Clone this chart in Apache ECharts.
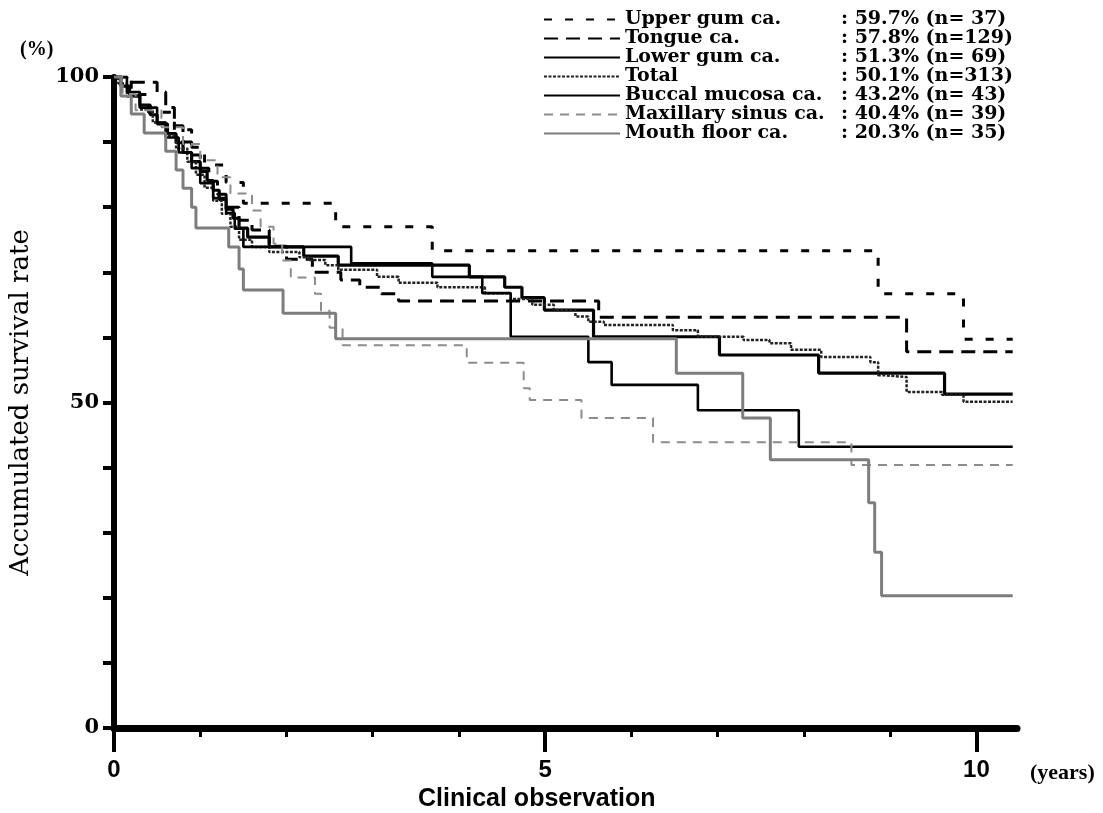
<!DOCTYPE html>
<html>
<head>
<meta charset="utf-8">
<script src="https://cdn.jsdelivr.net/npm/echarts@6/dist/echarts.min.js"></script>
<style>
html, body { margin: 0; background: #fff; }
#main { width: 1103px; height: 813px; }
</style>
</head>
<body>
<div id="main"></div>
<script>
// Kaplan-Meier steps: [years, survival %]
var upperGum = [[0,100],[0.2,97.3],[0.4,94.6],[0.7,91.9],[0.9,89.2],[1.05,86.5],[1.3,83.8],[1.5,80.6],[2.57,77.0],[3.69,73.3],[8.86,66.7],[9.85,59.7],[10.42,59.7]];
var tongue = [[0,100],[0.15,99.2],[0.5,97.7],[0.6,95.3],[0.7,92.5],[0.8,90.0],[0.9,88.0],[1.0,86.0],[1.1,84.0],[1.2,82.0],[1.3,80.0],[1.45,78.0],[1.6,76.5],[1.8,74.0],[2.0,72.0],[2.3,70.0],[2.63,68.8],[2.85,67.7],[3.1,66.7],[3.3,65.6],[5.62,63.1],[9.19,57.8],[10.42,57.8]];
var lowerGum = [[0,100],[0.08,98.6],[0.18,97.1],[0.3,95.7],[0.42,94.2],[0.5,92.8],[0.62,91.3],[0.72,89.9],[0.8,88.4],[0.9,87.0],[1.0,85.5],[1.08,84.1],[1.15,82.6],[1.22,81.2],[1.3,79.7],[1.38,78.3],[1.45,76.8],[1.55,75.4],[1.8,73.9],[2.2,72.5],[2.6,71.1],[4.12,69.3],[4.53,67.7],[4.73,66.1],[4.99,64.2],[5.56,60.1],[7.02,57.3],[8.17,54.5],[9.63,51.3],[10.42,51.3]];
var total = [[0,100],[0.05,99],[0.15,97],[0.3,95],[0.45,93],[0.6,91],[0.72,89],[0.85,87],[0.95,85],[1.05,83],[1.15,81],[1.25,79],[1.35,77],[1.45,75],[1.6,73.9],[1.8,73.1],[2.15,72.3],[2.25,71.9],[2.45,71.1],[2.6,70.4],[3.05,69.3],[3.3,68.4],[3.75,67.7],[4.3,66.8],[4.6,65.9],[4.85,65.0],[5.1,64.2],[5.35,63.2],[5.5,62.4],[5.68,61.9],[6.48,61.1],[6.77,60.1],[7.3,59.6],[7.6,59.1],[7.85,58.1],[8.2,57.0],[8.77,56.2],[8.86,54.2],[8.92,53.9],[9.19,51.6],[9.6,51.2],[9.85,50.1],[10.42,50.1]];
var buccal = [[0,100],[0.15,97.7],[0.3,95.3],[0.5,93.0],[0.6,90.7],[0.75,88.4],[0.9,86.0],[1.0,83.7],[1.15,81.4],[1.3,79.1],[1.4,76.7],[1.5,73.9],[2.75,71.4],[3.69,69.3],[4.27,66.8],[4.6,60.1],[5.5,56.2],[5.77,52.7],[6.77,48.8],[7.94,43.2],[10.42,43.2]];
var maxillary = [[0,100],[0.1,97.4],[0.25,94.9],[0.55,92.3],[0.8,89.7],[1.0,87.2],[1.2,84.6],[1.35,82.1],[1.6,79.5],[1.7,77.0],[1.85,74.4],[1.95,71.8],[2.05,69.2],[2.33,66.7],[2.4,64.1],[2.5,61.5],[2.65,58.8],[4.09,56.1],[4.75,52.2],[4.82,50.4],[5.42,47.6],[6.25,43.9],[8.55,40.4],[10.42,40.4]];
var mouthFloor = [[0,100],[0.08,97.1],[0.2,94.3],[0.35,91.4],[0.6,88.6],[0.72,85.7],[0.8,82.9],[0.9,80.0],[0.95,76.8],[1.33,73.9],[1.45,70.5],[1.5,67.3],[1.96,63.7],[2.57,59.8],[6.52,54.5],[7.29,47.6],[7.61,41.2],[8.75,34.6],[8.82,27.0],[8.90,20.3],[10.42,20.3]];

var names = ['Upper gum ca.', 'Tongue ca.', 'Lower gum ca.', 'Total', 'Buccal mucosa ca.', 'Maxillary sinus ca.', 'Mouth floor ca.'];
var rates = ['59.7', '57.8', '51.3', '50.1', '43.2', '40.4', '20.3'];
var counts = [37, 129, 69, 313, 43, 39, 35];
var xTicks = [0,1,2,3,4,5,6,7,8,9,10];
var xLabels = [0,5,10];
var yTicks = [0,10,20,30,40,50,60,70,80,90,100];
var yLabels = [0,50,100];

var serif = "'DejaVu Serif', 'Liberation Serif', serif";
var times = "'Liberation Serif', serif";
var narrow = "'Liberation Sans Narrow', 'Liberation Sans', sans-serif";

var myChart = echarts.init(document.getElementById('main'));

function km(name, data, style) {
    return {
        name: name,
        type: 'line',
        step: 'end',
        symbol: 'none',
        data: data,
        lineStyle: style,
        itemStyle: { color: style.color }
    };
}

option = {
    animation: false,
    backgroundColor: '#fff',
    grid: { left: 110, right: 86, top: 77, bottom: 85 },
    legend: {
        orient: 'vertical',
        left: 538,
        top: 5,
        itemWidth: 76,
        itemHeight: 14,
        itemGap: 0,
        selectedMode: false,
        data: names,
        itemStyle: { color: 'rgba(0,0,0,0)', borderWidth: 0, opacity: 0 },
        formatter: function (name) {
            var i = names.indexOf(name);
            var n = counts[i] < 100 ? ' ' + counts[i] : '' + counts[i];
            return '{a|' + name + '}{b|: ' + rates[i] + '% (n=' + n + ')}';
        },
        textStyle: {
            rich: {
                a: { fontFamily: serif, fontWeight: 'bold', fontSize: 19, color: '#000', width: 216, lineHeight: 22.5 },
                b: { fontFamily: serif, fontWeight: 'bold', fontSize: 19, color: '#000', lineHeight: 22.5 }
            }
        }
    },
    xAxis: [
        {
            type: 'value',
            min: 0,
            max: 10.47,
            position: 'bottom',
            splitLine: { show: false },
            axisLine: { onZero: false, lineStyle: { color: '#000', width: 7 } },
            axisTick: { customValues: xTicks, length: 9, lineStyle: { color: '#000', width: 3 } },
            axisLabel: { show: false }
        },
        {
            type: 'value',
            min: 0,
            max: 10.47,
            position: 'bottom',
            splitLine: { show: false },
            axisLine: { show: false },
            axisTick: { customValues: xLabels, length: 24, lineStyle: { color: '#000', width: 4 } },
            axisLabel: {
                customValues: xLabels,
                margin: 30,
                fontFamily: narrow,
                fontWeight: 'bold',
                fontSize: 24,
                color: '#000'
            }
        }
    ],
    yAxis: {
        type: 'value',
        min: 0,
        max: 100,
        interval: 10,
        name: 'Accumulated survival rate',
        nameLocation: 'middle',
        nameRotate: 90,
        nameGap: 80,
        nameTextStyle: { fontFamily: serif, fontSize: 26, color: '#000' },
        splitLine: { show: false },
        axisLine: { lineStyle: { color: '#000', width: 6 } },
        axisTick: { customValues: yTicks, length: 11, lineStyle: { color: '#000', width: 4 } },
        axisLabel: {
            customValues: yLabels,
            margin: 15,
            fontFamily: serif,
            fontWeight: 'bold',
            fontSize: 21,
            color: '#000'
        }
    },
    graphic: [
        { type: 'text', left: 20, top: 40, style: { text: '(%)', font: 'bold 20px ' + times, fill: '#000' } },
        { type: 'text', left: 1030, top: 762, style: { text: '(years)', font: 'bold 22px ' + times, fill: '#000' } },
        { type: 'text', left: 418, top: 787, style: { text: 'Clinical observation', font: 'bold 25px ' + narrow, fill: '#000' } }
    ],
    series: [
        km(names[0], upperGum, { color: '#000', width: 3, type: [8, 13] }),
        km(names[1], tongue, { color: '#000', width: 3, type: [14, 8] }),
        km(names[2], lowerGum, { color: '#000', width: 3.2 }),
        km(names[3], total, { color: '#222', width: 2.5, type: [3, 1.5] }),
        km(names[4], buccal, { color: '#000', width: 2.6 }),
        km(names[5], maxillary, { color: '#8c8c8c', width: 2, type: [9, 7] }),
        km(names[6], mouthFloor, { color: '#7d7d7d', width: 3 })
    ]
};
myChart.setOption(option);
window.onresize = myChart.resize;
</script>
</body>
</html>
